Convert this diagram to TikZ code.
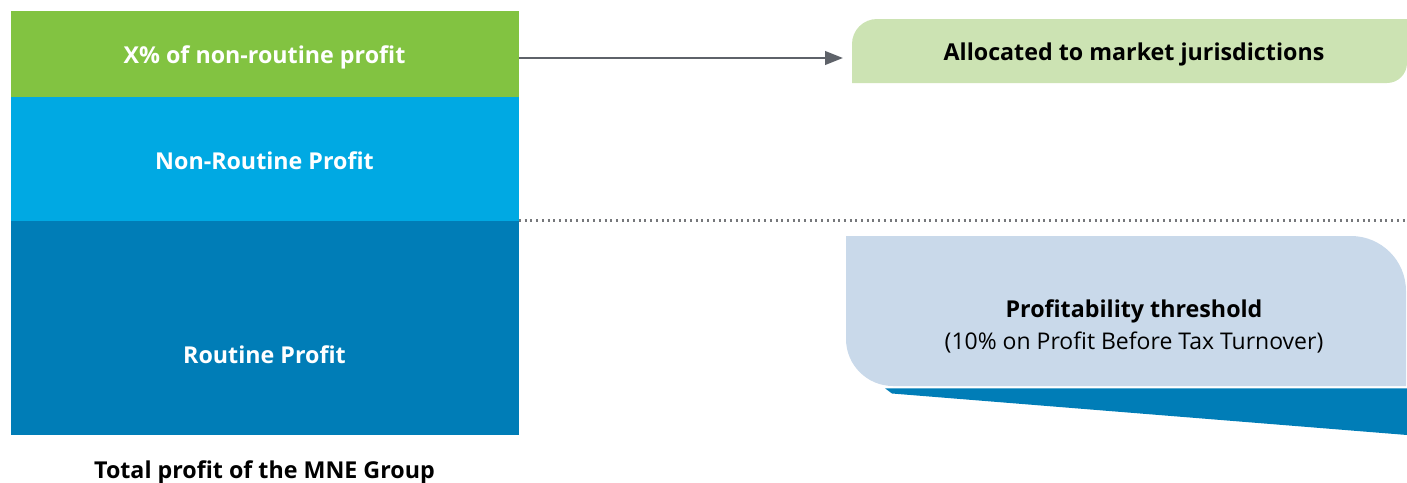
\documentclass[tikz,border=0pt]{standalone}
\usepackage{fontspec}
\setmainfont{Open Sans}
\usetikzlibrary{arrows.meta}
\definecolor{xgreen}{HTML}{82C341}
\definecolor{xlblue}{HTML}{00A9E3}
\definecolor{xdblue}{HTML}{007DB7}
\definecolor{xpgreen}{HTML}{CCE3B3}
\definecolor{xpblue}{HTML}{C9D9EA}
\definecolor{xgray}{HTML}{5E6269}
\definecolor{xdot}{HTML}{76787B}
\tikzset{
  band/.style={minimum width=508pt, inner sep=0pt, outer sep=0pt},
  wlbl/.style={anchor=base, inner sep=0pt, text=white, font=\fontsize{23.25}{27}\selectfont\bfseries},
  lbl/.style={anchor=base, inner sep=0pt, font=\fontsize{23.25}{27}\selectfont\bfseries, text=black},
  rlbl/.style={anchor=base, inner sep=0pt, font=\fontsize{23}{27}\selectfont, text=black},
  conn/.style={xgray, line width=2.5pt, -{Triangle[length=18pt,width=13.5pt]}},
  dotline/.style={xdot, line width=2.2pt, dash pattern=on 2pt off 3.7pt}
}
\begin{document}
\begin{tikzpicture}[x=1pt,y=-1pt]
\useasboundingbox (0,0) rectangle (1407,482);
% left stack
\node[band, fill=xgreen, minimum height=86pt] (xp) at (265,54) {};
\node[band, fill=xlblue, minimum height=124pt] (nr) at (265,159) {};
\node[band, fill=xdblue, minimum height=214pt] (rp) at (265,328) {};
\node[wlbl] (xpt) at (264.5,63) {X\% of non-routine profit};
\node[wlbl] (nrt) at (264.5,169) {Non-Routine Profit};
\node[wlbl] (rpt) at (264.5,363) {Routine Profit};
\node[lbl] (cap) at (264.5,478) {Total profit of the MNE Group};
% allocated box
\fill[xpgreen] (852,83) -- (852,44) arc[start angle=180, end angle=270, radius=25] -- (1407,19) -- (1407,63) arc[start angle=0, end angle=90, radius=20] -- cycle;
\node[lbl] (alloc) at (1134,60.5) {Allocated to market jurisdictions};
\coordinate (allocin) at (843,58);
\draw[conn] (xp.east |- allocin) -- (allocin);
% dotted line
\coordinate (dotend) at (1407,220.5);
\draw[dotline] (nr.south east |- dotend) ++(0,0) -- (dotend);
% threshold
\fill[xdblue] (885,388.3) -- (1407,388.3) -- (1407,435) -- (892,393.5) -- cycle;
\fill[xpblue] (846,236) -- (1351,236) arc[start angle=-90, end angle=0, radius=55] -- (1406,386) -- (893,386) arc[start angle=90, end angle=180, radius=47] -- cycle;
\node[lbl] (thr) at (1134,317.5) {Profitability threshold};
\node[rlbl] (thr2) at (1134,349) {(10\% on Profit Before Tax Turnover)};
\end{tikzpicture}
\end{document}
